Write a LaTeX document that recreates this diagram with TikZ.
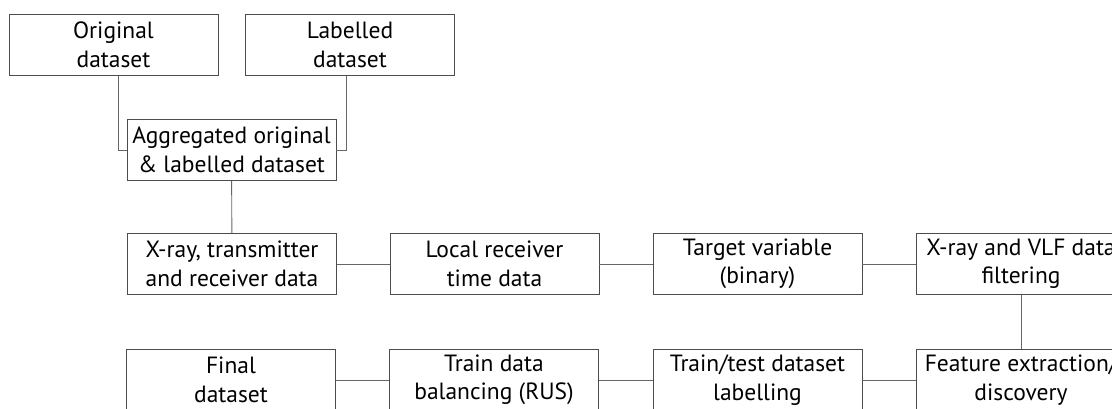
\documentclass[tikz,border=0pt]{standalone}
\usepackage{fontspec}
\setmainfont{PT Sans}
\begin{document}
\begin{tikzpicture}[x=1pt,y=-1pt,
  box/.style={draw=black!70,line width=0.9pt,minimum width=209pt,minimum height=61pt,inner sep=0pt,
    align=center,font=\fontsize{23.5}{28.5}\selectfont,fill=white},
  conn/.style={draw=black!60,line width=0.9pt}]
\useasboundingbox (0,0) rectangle (1112,408);
\clip (0,0) rectangle (1112,408);
\node[box] (orig) at (113.5,45) {Original\\dataset};
\node[box] (lab) at (350,45) {Labelled\\dataset};
\node[box] (agg) at (231.5,150) {Aggregated original\\\& labelled dataset};
\node[box] (xray) at (232,264) {X-ray, transmitter\\and receiver data};
\node[box] (local) at (494.5,264) {Local receiver\\time data};
\node[box] (target) at (757.5,264) {Target variable\\(binary)};
\node[box] (filt) at (1021,264) {X-ray and VLF data\\filtering};
\node[box] (feat) at (1021,380) {Feature extraction/\\discovery};
\node[box] (tt) at (757.5,380) {Train/test dataset\\labelling};
\node[box] (bal) at (494,380) {Train data\\balancing (RUS)};
\node[box] (final) at (231,380) {Final\\dataset};
\draw[conn] (orig.south -| 118,0) |- (agg.west);
\draw[conn] (lab.south -| 346,0) |- (agg.east);
\draw[conn] (agg) -- (xray);
\draw[conn] (xray) -- (local);
\draw[conn] (local) -- (target);
\draw[conn] (target) -- (filt);
\draw[conn] (filt) -- (feat);
\draw[conn] (feat) -- (tt);
\draw[conn] (tt) -- (bal);
\draw[conn] (bal) -- (final);
\end{tikzpicture}
\end{document}
